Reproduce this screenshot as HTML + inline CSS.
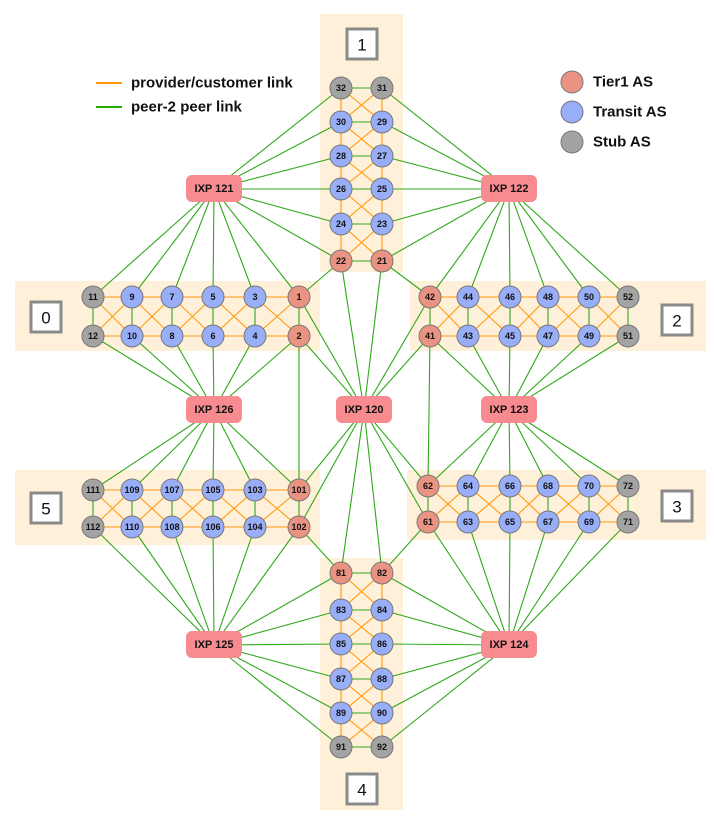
<!DOCTYPE html>
<html><head><meta charset="utf-8"><style>
html,body{margin:0;padding:0;background:#fff}
svg{display:block}
text{font-family:"Liberation Sans",Arial,sans-serif;font-weight:bold;fill:#111}
.n{font-size:9px;text-anchor:middle;dominant-baseline:central}
.i{font-size:11px;text-anchor:middle;dominant-baseline:central}
.r{font-size:17px;font-weight:normal;text-anchor:middle;dominant-baseline:central}
.l{font-size:15px;dominant-baseline:central}
</style></head><body>
<svg id="s" width="714" height="819" viewBox="0 0 714 819" xmlns="http://www.w3.org/2000/svg">
<g fill="#fff0d9">
<rect x="320" y="14" width="83" height="258"/>
<rect x="15" y="281" width="305" height="70"/>
<rect x="410" y="281" width="296" height="70"/>
<rect x="407" y="470" width="299" height="70"/>
<rect x="15" y="470" width="305" height="75"/>
<rect x="320" y="558" width="83" height="252"/>
</g>
<g fill="#fff" stroke="#8a8a8a" stroke-width="3">
<rect x="347" y="29" width="30" height="30"/>
<rect x="31" y="302" width="30" height="30"/>
<rect x="662" y="305" width="30" height="30"/>
<rect x="662" y="491" width="30" height="30"/>
<rect x="31" y="493" width="30" height="30"/>
<rect x="347" y="774" width="30" height="30"/>
</g>
<text class="r" x="362" y="45">1</text>
<text class="r" x="46" y="318">0</text>
<text class="r" x="677" y="321">2</text>
<text class="r" x="677" y="507">3</text>
<text class="r" x="46" y="509">5</text>
<text class="r" x="362" y="790">4</text>
<line x1="96" y1="83" x2="122" y2="83" stroke="#ff9900" stroke-width="2"/>
<line x1="96" y1="107" x2="122" y2="107" stroke="#22aa00" stroke-width="2"/>
<text class="l" x="131" y="83">provider/customer link</text>
<text class="l" x="131" y="107">peer-2 peer link</text>
<g stroke="#777" stroke-width="1">
<circle cx="572" cy="82" r="11" fill="#ea9383"/>
<circle cx="572" cy="112" r="11" fill="#99aef8"/>
<circle cx="572" cy="142" r="11" fill="#a3a3a3"/>
</g>
<text class="l" x="593" y="82">Tier1 AS</text>
<text class="l" x="593" y="112">Transit AS</text>
<text class="l" x="593" y="142">Stub AS</text>
<g id="lines"></g>
<g id="nodes"></g>
<g id="labels">
<text class="n" x="93" y="297">11</text><text class="n" x="132" y="297">9</text><text class="n" x="172" y="297">7</text><text class="n" x="213" y="297">5</text><text class="n" x="255" y="297">3</text><text class="n" x="299" y="297">1</text>
<text class="n" x="93" y="336">12</text><text class="n" x="132" y="336">10</text><text class="n" x="172" y="336">8</text><text class="n" x="213" y="336">6</text><text class="n" x="255" y="336">4</text><text class="n" x="299" y="336">2</text>
<text class="n" x="93" y="490">111</text><text class="n" x="132" y="490">109</text><text class="n" x="172" y="490">107</text><text class="n" x="213" y="490">105</text><text class="n" x="255" y="490">103</text><text class="n" x="299" y="490">101</text>
<text class="n" x="93" y="527">112</text><text class="n" x="132" y="527">110</text><text class="n" x="172" y="527">108</text><text class="n" x="213" y="527">106</text><text class="n" x="255" y="527">104</text><text class="n" x="299" y="527">102</text>
<text class="n" x="430" y="297">42</text><text class="n" x="468" y="297">44</text><text class="n" x="510" y="297">46</text><text class="n" x="548" y="297">48</text><text class="n" x="589" y="297">50</text><text class="n" x="628" y="297">52</text>
<text class="n" x="430" y="336">41</text><text class="n" x="468" y="336">43</text><text class="n" x="510" y="336">45</text><text class="n" x="548" y="336">47</text><text class="n" x="589" y="336">49</text><text class="n" x="628" y="336">51</text>
<text class="n" x="428" y="486">62</text><text class="n" x="468" y="486">64</text><text class="n" x="510" y="486">66</text><text class="n" x="548" y="486">68</text><text class="n" x="589" y="486">70</text><text class="n" x="628" y="486">72</text>
<text class="n" x="428" y="522">61</text><text class="n" x="468" y="522">63</text><text class="n" x="510" y="522">65</text><text class="n" x="548" y="522">67</text><text class="n" x="589" y="522">69</text><text class="n" x="628" y="522">71</text>
<text class="n" x="341" y="88">32</text><text class="n" x="341" y="122">30</text><text class="n" x="341" y="156">28</text><text class="n" x="341" y="189">26</text><text class="n" x="341" y="224">24</text><text class="n" x="341" y="261">22</text>
<text class="n" x="382" y="88">31</text><text class="n" x="382" y="122">29</text><text class="n" x="382" y="156">27</text><text class="n" x="382" y="189">25</text><text class="n" x="382" y="224">23</text><text class="n" x="382" y="261">21</text>
<text class="n" x="341" y="573">81</text><text class="n" x="341" y="610">83</text><text class="n" x="341" y="644">85</text><text class="n" x="341" y="679">87</text><text class="n" x="341" y="713">89</text><text class="n" x="341" y="747">91</text>
<text class="n" x="382" y="573">82</text><text class="n" x="382" y="610">84</text><text class="n" x="382" y="644">86</text><text class="n" x="382" y="679">88</text><text class="n" x="382" y="713">90</text><text class="n" x="382" y="747">92</text>
<text class="i" x="214" y="189">IXP 121</text>
<text class="i" x="509" y="189">IXP 122</text>
<text class="i" x="214" y="410">IXP 126</text>
<text class="i" x="364" y="410">IXP 120</text>
<text class="i" x="509" y="410">IXP 123</text>
<text class="i" x="214" y="645">IXP 125</text>
<text class="i" x="509" y="645">IXP 124</text>
</g>
</svg>
<script>
(function(){
var P={},NS="http://www.w3.org/2000/svg";
function row(ids,xs,y){ids.forEach(function(id,i){P[id]=[xs[i],y];});}
function col(ids,x,ys){ids.forEach(function(id,i){P[id]=[x,ys[i]];});}
var xl=[93,132,172,213,255,299],xr=[628,589,548,510,468,430],xr3=[628,589,548,510,468,428];
row([11,9,7,5,3,1],xl,297);row([12,10,8,6,4,2],xl,336);
row([111,109,107,105,103,101],xl,490);row([112,110,108,106,104,102],xl,527);
row([52,50,48,46,44,42],xr,297);row([51,49,47,45,43,41],xr,336);
row([72,70,68,66,64,62],xr3,486);row([71,69,67,65,63,61],xr3,522);
var y1=[88,122,156,189,224,261],y4=[747,713,679,644,610,573];
col([32,30,28,26,24,22],341,y1);col([31,29,27,25,23,21],382,y1);
col([91,89,87,85,83,81],341,y4);col([92,90,88,86,84,82],382,y4);
var X={121:[214,189],122:[509,189],126:[214,410],120:[364,410],123:[509,410],125:[214,645],124:[509,645]};
for(var k in X)P['x'+k]=X[k];
var L=document.getElementById('lines'),N=document.getElementById('nodes');
function ln(a,b,c){var p=P[a],q=P[b],e=document.createElementNS(NS,'line');
e.setAttribute('x1',p[0]);e.setAttribute('y1',p[1]);e.setAttribute('x2',q[0]);e.setAttribute('y2',q[1]);
e.setAttribute('stroke',c);e.setAttribute('stroke-width','1.1');L.appendChild(e);}
var G="#2ea81a",O="#ff9a10";
var regs=[[[11,12],[9,10],[7,8],[5,6],[3,4],[1,2]],
[[32,31],[30,29],[28,27],[26,25],[24,23],[22,21]],
[[52,51],[50,49],[48,47],[46,45],[44,43],[42,41]],
[[72,71],[70,69],[68,67],[66,65],[64,63],[62,61]],
[[91,92],[89,90],[87,88],[85,86],[83,84],[81,82]],
[[111,112],[109,110],[107,108],[105,106],[103,104],[101,102]]];
var ix={121:[[11,9,7,5,3,1],[32,30,28,26,24,22]],122:[[31,29,27,25,23,21],[42,44,46,48,50,52]],
126:[[12,10,8,6,4,2],[111,109,107,105,103,101]],123:[[41,43,45,47,49,51],[62,64,66,68,70,72]],
125:[[112,110,108,106,104,102],[81,83,85,87,89,91]],124:[[61,63,65,67,69,71],[82,84,86,88,90,92]],
120:[[1,2,22,21,42,41,101,102,81,82,62,61],[]]};
for(var k in ix){ix[k][0].concat(ix[k][1]).forEach(function(n){ln('x'+k,n,G);});}
[[1,22],[21,42],[2,101],[41,62],[102,81],[61,82]].forEach(function(e){ln(e[0],e[1],G);});
regs.forEach(function(r){for(var i=0;i<r.length-1;i++){var a=r[i],b=r[i+1];
ln(a[0],b[0],O);ln(a[1],b[1],O);ln(a[0],b[1],O);ln(a[1],b[0],O);}
r.forEach(function(p){ln(p[0],p[1],G);});});
var tier=[1,2,21,22,41,42,61,62,81,82,101,102],stub=[11,12,31,32,51,52,71,72,91,92,111,112];
for(var id in P){if(id[0]=='x'){var c=P[id],e=document.createElementNS(NS,'rect');
e.setAttribute('x',c[0]-28);e.setAttribute('y',c[1]-14);e.setAttribute('width',56);e.setAttribute('height',27);
e.setAttribute('rx',6);e.setAttribute('fill','#f88b90');N.appendChild(e);continue;}
var n=+id,c=P[id],e=document.createElementNS(NS,'circle');
e.setAttribute('cx',c[0]);e.setAttribute('cy',c[1]);e.setAttribute('r',11);
e.setAttribute('fill',tier.indexOf(n)>=0?'#ea9383':stub.indexOf(n)>=0?'#a3a3a3':'#99aef8');
e.setAttribute('stroke','#777');e.setAttribute('stroke-width','1');N.appendChild(e);}
})();
</script>
</body></html>
